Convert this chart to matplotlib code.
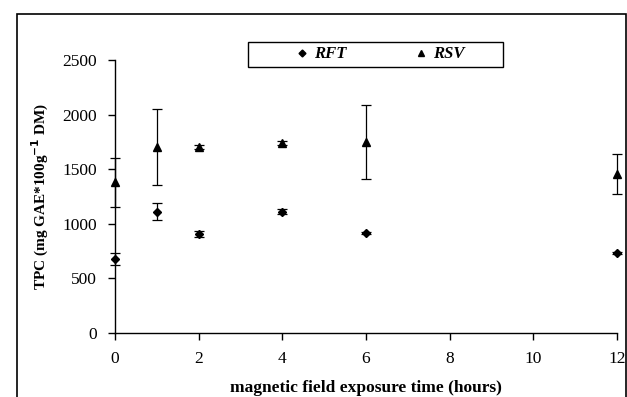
import matplotlib
matplotlib.use("Agg")
import matplotlib.pyplot as plt
from matplotlib.patches import Rectangle
from matplotlib.lines import Line2D

# exposure time (hours)
hours = [0, 1, 2, 4, 6, 12]

# TPC values, mg GAE*100g-1 DM
rft = [678, 1111, 906, 1111, 916, 732]
rft_err = [55, 80, 25, 25, 10, 6]
rsv = [1380, 1703, 1700, 1740, 1750, 1455]
rsv_err = [225, 345, 18, 15, 340, 185]

plt.rcParams['font.family'] = ['Liberation Serif', 'DejaVu Serif']

fig = plt.figure(figsize=(6.27, 3.97), dpi=100)
ax = fig.add_axes([0.1834, 0.1612, 0.8006, 0.6877])

ax.errorbar(hours, rft, yerr=rft_err, fmt='D', color='black', markersize=4.5,
            capsize=3.5, elinewidth=0.9, capthick=0.9, clip_on=False)
ax.errorbar(hours, rsv, yerr=rsv_err, fmt='^', color='black', markersize=6,
            capsize=3.5, elinewidth=0.9, capthick=0.9, clip_on=False)

ax.set_xlim(0, 12)
ax.set_ylim(0, 2500)
ax.set_xticks([0, 2, 4, 6, 8, 10, 12])
ax.set_yticks([0, 500, 1000, 1500, 2000, 2500])
ax.spines['top'].set_visible(False)
ax.spines['right'].set_visible(False)
ax.spines['left'].set_linewidth(1)
ax.spines['bottom'].set_linewidth(1)
ax.tick_params(direction='out', length=5, width=1, labelsize=12.5, pad=8)

ax.set_xlabel('magnetic field exposure time (hours)', fontweight='bold', fontsize=12.5, labelpad=9)
ax.set_ylabel('TPC (mg GAE*100g$^{\\mathbf{-1}}$ DM)', fontweight='bold', fontsize=11, labelpad=8)

handles = [Line2D([], [], marker='D', color='black', linestyle='none', markersize=3.5),
           Line2D([], [], marker='^', color='black', linestyle='none', markersize=5)]
leg = ax.legend(handles, ['RFT', 'RSV'], loc='center',
                bbox_to_anchor=(380 / 627, 1 - 54.5 / 397), bbox_transform=fig.transFigure,
                ncol=2, frameon=False,
                handlelength=0.8, handletextpad=0.3, columnspacing=4.1,
                prop={'weight': 'bold', 'style': 'italic', 'size': 12})

# legend box
fig.patches.append(Rectangle((248 / 627, 1 - 67 / 397), 255 / 627, 25 / 397, transform=fig.transFigure,
                             fill=False, edgecolor='black', linewidth=1))

# outer chart-area border
fig.patches.append(Rectangle((17 / 627, -0.1), 609 / 627, 1.1 - 14 / 397, transform=fig.transFigure,
                             fill=False, edgecolor='black', linewidth=1.2))

fig.savefig('out.png', dpi=100)
